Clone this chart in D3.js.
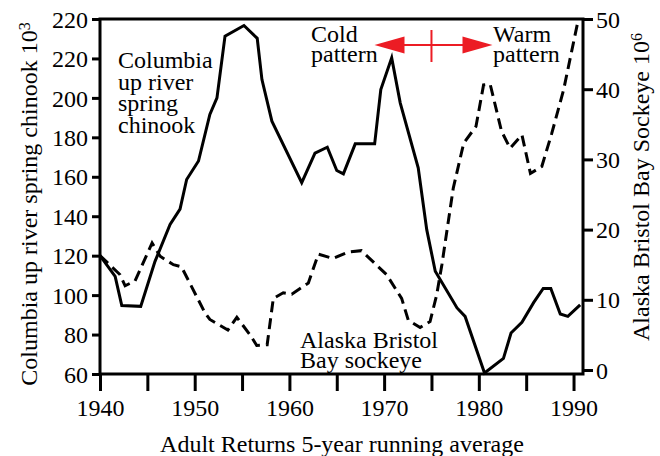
<!DOCTYPE html>
<html>
<head>
<meta charset="utf-8">
<script src="https://cdn.jsdelivr.net/npm/d3@7"></script>
<style>
  body { margin: 0; background: #fff; }
  svg { display: block; }
</style>
</head>
<body>
<script>
// Columbia up river spring chinook (thousands), left axis
var chinookYears = [1940, 1941.6, 1942.3, 1944.3, 1945.8, 1947.4, 1948.45, 1949.15, 1950.4, 1951.6,
  1952.35, 1953.2, 1955.2, 1956.6, 1957.1, 1958.15, 1961.3, 1962.7, 1964.0, 1965.0,
  1965.7, 1966.95, 1969.0, 1969.65, 1970.8, 1971.7, 1973.6, 1974.5, 1975.4, 1977.7,
  1978.55, 1980.6, 1982.6, 1983.4, 1984.55, 1985.8, 1986.8, 1987.6, 1988.6, 1989.4, 1990.7];
var chinookValues = [120, 109.5, 94.7, 94.3, 117, 135.8, 143.6, 158.6, 168, 191.6,
  200, 231.3, 236.7, 230.2, 209.3, 188.2, 157, 172, 175, 163.2,
  161.5, 176.7, 176.7, 204.2, 220.3, 197.5, 164.5, 133.2, 112.1, 93.5,
  89.2, 60.5, 67.9, 80.8, 86.2, 96.3, 103.4, 103.4, 90.4, 89.2, 95];

// Alaska Bristol Bay sockeye (millions), right axis
var sockeyeYears = [1940, 1942.1, 1942.65, 1943.7, 1945.5, 1946.35, 1947.75, 1948.6, 1951.1, 1951.6,
  1953.5, 1954.45, 1955.85, 1956.55, 1957.65, 1958.3, 1959.35, 1960.25, 1962.0, 1963.05,
  1964.6, 1966.2, 1967.6, 1970.25, 1971.85, 1972.55, 1973.8, 1974.85, 1975.55, 1976.1,
  1977.3, 1978.4, 1979.7, 1980.5, 1981.2, 1982.4, 1983.3, 1984.55, 1985.45, 1986.65,
  1987.7, 1988.95, 1990.5];
var sockeyeValues = [16.3, 13.6, 12.0, 12.7, 18.1, 16.2, 15.0, 14.7, 8.1, 7.2,
  5.7, 7.5, 5.0, 3.5, 3.6, 10.2, 11.0, 10.8, 12.4, 16.5,
  15.9, 16.8, 17.0, 13.6, 10.2, 7.1, 6.05, 6.9, 10.7, 15.0,
  25.9, 32.3, 34.7, 40.6, 40.7, 34.0, 31.6, 33.5, 28.0, 29.0,
  33.7, 39.9, 49.9];

// axis ticks
var yearTicks = [1940, 1945, 1950, 1955, 1960, 1965, 1970, 1975, 1980, 1985, 1990];
var yearTickLabels = ["1940", "", "1950", "", "1960", "", "1970", "", "1980", "", "1990"];
var leftTicks = [60, 80, 100, 120, 140, 160, 180, 200, 220, 240];
var leftTickLabels = ["60", "80", "100", "120", "140", "160", "180", "200", "220", "220"];
var rightTicks = [0, 10, 20, 30, 40, 50];

var regimeYear = 1975;

var width = 660, height = 456;
var margin = { left: 100, right: 77, top: 19, bottom: 82 };
var fontSize = 24;
var serif = '"Liberation Serif", "DejaVu Serif", serif';

var svg = d3.select("body").append("svg")
  .attr("width", width)
  .attr("height", height)
  .style("font-family", serif);

var x = d3.scaleLinear().domain([1940, 1991]).range([margin.left, width - margin.right]);
var yLeft = d3.scaleLinear().domain([60, 240]).range([height - margin.bottom, margin.top]);
var yRight = d3.scaleLinear().domain([0, 50]).range([370, margin.top]);

//------- AXES -------
var xAxis = d3.axisBottom(x)
  .tickValues(yearTicks)
  .tickFormat(function (d, i) { return yearTickLabels[i]; })
  .tickSize(17)
  .tickPadding(8);

var leftAxis = d3.axisLeft(yLeft)
  .tickValues(leftTicks)
  .tickFormat(function (d, i) { return leftTickLabels[i]; })
  .tickSize(8)
  .tickPadding(4);

var rightAxis = d3.axisRight(yRight)
  .tickValues(rightTicks)
  .tickFormat(d3.format("d"))
  .tickSize(10)
  .tickPadding(3);

var gx = svg.append("g")
  .attr("transform", "translate(0," + (height - margin.bottom) + ")")
  .call(xAxis);
var gl = svg.append("g")
  .attr("transform", "translate(" + margin.left + ",0)")
  .call(leftAxis);
var gr = svg.append("g")
  .attr("transform", "translate(" + (width - margin.right) + ",0)")
  .call(rightAxis);

[gx, gl, gr].forEach(function (g) {
  g.attr("font-family", null).attr("font-size", null);
  g.select(".domain").remove();
  g.selectAll(".tick line").attr("stroke", "#000").attr("stroke-width", 3);
  g.selectAll(".tick text")
    .style("font-family", serif)
    .style("font-size", fontSize + "px")
    .attr("fill", "#000");
});
gl.selectAll(".tick text").attr("dy", "0.34em");
gr.selectAll(".tick text").attr("dy", "0.34em");

// frame
svg.append("rect")
  .attr("x", margin.left)
  .attr("y", margin.top)
  .attr("width", width - margin.right - margin.left)
  .attr("height", height - margin.bottom - margin.top)
  .attr("fill", "none")
  .attr("stroke", "#000")
  .attr("stroke-width", 3);

//------- LINES -------
var chinookLine = d3.line()
  .x(function (d, i) { return x(chinookYears[i]); })
  .y(function (d) { return yLeft(d); });

var sockeyeLine = d3.line()
  .x(function (d, i) { return x(sockeyeYears[i]); })
  .y(function (d) { return yRight(d); });

svg.append("path")
  .datum(sockeyeValues)
  .attr("d", sockeyeLine)
  .attr("fill", "none")
  .attr("stroke", "#000")
  .attr("stroke-width", 3)
  .attr("stroke-dasharray", "11,6")
  .attr("stroke-linejoin", "miter");

svg.append("path")
  .datum(chinookValues)
  .attr("d", chinookLine)
  .attr("fill", "none")
  .attr("stroke", "#000")
  .attr("stroke-width", 3)
  .attr("stroke-linejoin", "miter");

//------- AXIS TITLES -------
function txt() {
  return svg.append("text")
    .style("font-family", serif)
    .style("font-size", fontSize + "px")
    .attr("fill", "#000");
}

var lt = txt()
  .attr("transform", "translate(37,204) rotate(-90)")
  .attr("text-anchor", "middle");
lt.append("tspan").text("Columbia up river spring chinook 10");
lt.append("tspan").attr("dy", "-0.45em").style("font-size", "16px").text("3");

var rt = txt()
  .attr("transform", "translate(649,187) rotate(-90)")
  .attr("text-anchor", "middle");
rt.append("tspan").text("Alaska Bristol Bay Sockeye 10");
rt.append("tspan").attr("dy", "-0.45em").style("font-size", "16px").text("6");

txt()
  .attr("x", 342)
  .attr("y", 452)
  .attr("text-anchor", "middle")
  .text("Adult Returns 5-year running average");

//------- LABELS -------
function block(lines, tx, ty, lh) {
  var t = txt();
  lines.forEach(function (s, i) {
    t.append("tspan").attr("x", tx).attr("y", ty + i * lh).text(s);
  });
}

block(["Columbia", "up river", "spring", "chinook"], 118, 68, 21.5);
block(["Cold", "pattern"], 311, 42, 20);
block(["Warm", "pattern"], 493, 42, 20);
block(["Alaska Bristol", "Bay sockeye"], 300, 348, 20);

//------- REGIME SHIFT ARROW -------
var red = "#ec1c24";
var cx = x(regimeYear), ay = 45;
svg.append("line")
  .attr("x1", cx - 45).attr("x2", cx + 45)
  .attr("y1", ay).attr("y2", ay)
  .attr("stroke", red).attr("stroke-width", 2);
svg.append("line")
  .attr("x1", cx).attr("x2", cx)
  .attr("y1", ay - 15).attr("y2", ay + 17)
  .attr("stroke", red).attr("stroke-width", 2);
svg.append("path")
  .attr("d", "M" + (cx - 57) + "," + ay + "L" + (cx - 27) + "," + (ay - 8.5) + "L" + (cx - 27) + "," + (ay + 8.5) + "Z")
  .attr("fill", red);
svg.append("path")
  .attr("d", "M" + (cx + 61) + "," + ay + "L" + (cx + 31) + "," + (ay - 8.5) + "L" + (cx + 31) + "," + (ay + 8.5) + "Z")
  .attr("fill", red);
</script>
</body>
</html>
